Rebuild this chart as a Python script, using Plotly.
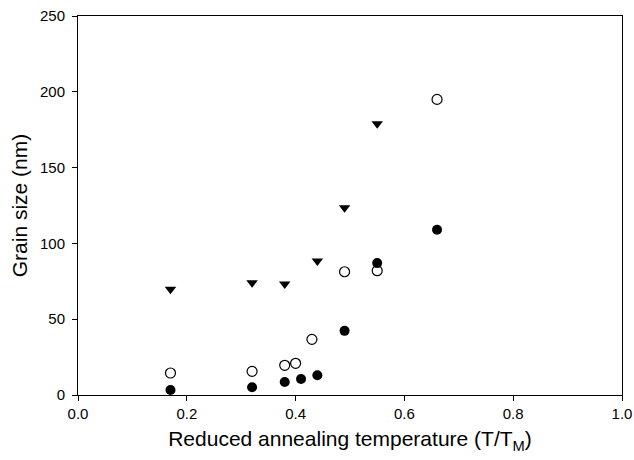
import plotly.graph_objects as go

tri_x = [0.17, 0.32, 0.38, 0.44, 0.49, 0.55]
tri_y = [69.7, 74.0, 73.3, 88.4, 123.5, 179.0]

open_x = [0.17, 0.32, 0.38, 0.40, 0.43, 0.49, 0.55, 0.66]
open_y = [14.5, 15.6, 19.6, 20.9, 36.7, 81.3, 82.0, 195.0]

fill_x = [0.17, 0.32, 0.38, 0.41, 0.44, 0.49, 0.55, 0.66]
fill_y = [3.3, 5.1, 8.6, 10.5, 13.0, 42.3, 87.0, 109.0]

x_ticks = [0.0, 0.2, 0.4, 0.6, 0.8, 1.0]
x_tick_labels = ["0.0", "0.2", "0.4", "0.6", "0.8", "1.0"]
y_ticks = [0, 50, 100, 150, 200, 250]
y_tick_labels = ["0", "50", "100", "150", "200", "250"]

FONT = "Liberation Sans, Arial"

fig = go.Figure()
fig.add_trace(go.Scatter(x=tri_x, y=tri_y, mode="markers",
                         marker=dict(symbol="triangle-down", size=10, color="black",
                                     line=dict(width=0))))
fig.add_trace(go.Scatter(x=open_x, y=open_y, mode="markers",
                         marker=dict(symbol="circle-open", size=10, color="black",
                                     line=dict(width=1.2))))
fig.add_trace(go.Scatter(x=fill_x, y=fill_y, mode="markers",
                         marker=dict(symbol="circle", size=10, color="black",
                                     line=dict(width=0))))

axis_common = dict(showgrid=False, zeroline=False, showline=True, linecolor="black",
                   linewidth=1, mirror=True, ticks="outside", ticklen=5,
                   tickcolor="black", tickwidth=1, automargin=False,
                   ticklabeloverflow="allow",
                   tickfont=dict(family=FONT, size=15, color="black"))

fig.update_xaxes(range=[0, 1.0], tickvals=x_ticks, ticktext=x_tick_labels,
                 title=dict(text="Reduced annealing temperature (T/T<sub>M</sub>)",
                            font=dict(family=FONT, size=21, color="black"),
                            standoff=10),
                 **axis_common)
fig.update_yaxes(range=[0, 250], tickvals=y_ticks, ticktext=y_tick_labels,
                 ticklabelstandoff=4,
                 title=dict(text="Grain size (nm)",
                            font=dict(family=FONT, size=21, color="black"),
                            standoff=6),
                 **axis_common)

fig.update_layout(width=634, height=460, showlegend=False,
                  plot_bgcolor="white", paper_bgcolor="white",
                  margin=dict(l=78, r=12, t=16, b=65))

fig.write_html("out.html", config={"displayModeBar": False},
               post_script="document.body.style.margin='0';document.body.style.overflow='hidden';")
